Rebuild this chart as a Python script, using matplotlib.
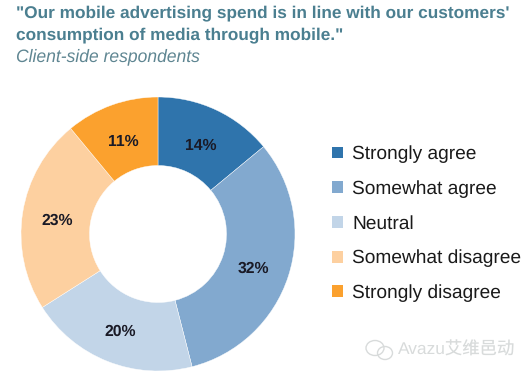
import math
import matplotlib
matplotlib.use("Agg")
import matplotlib.pyplot as plt
from matplotlib.patches import Ellipse

# -----------------------------
# Data
# -----------------------------
categories = ["Strongly agree", "Somewhat agree", "Neutral", "Somewhat disagree", "Strongly disagree"]
values = [14, 32, 20, 23, 11]
colors = ["#2f74ac", "#82a9cf", "#c2d5e8", "#fdd0a0", "#fba12e"]

title_lines = "\"Our mobile advertising spend is in line with our customers'\nconsumption of media through mobile.\""
subtitle = "Client-side respondents"
watermark = "Avazu艾维邑动"

W, H = 532, 375
plt.rcParams["font.family"] = ["Liberation Sans", "Noto Sans CJK SC", "DejaVu Sans"]
plt.rcParams["text.hinting"] = "no_hinting"

fig = plt.figure(figsize=(W / 100, H / 100), dpi=100, facecolor="white")

# -----------------------------
# Donut
# -----------------------------
cx, cy, r = 158, 234, 137
ax = fig.add_axes([(cx - r) / W, 1 - (cy + r) / H, 2 * r / W, 2 * r / H])
wedges, _ = ax.pie(
    values,
    colors=colors,
    startangle=90,
    counterclock=False,
    radius=1.0,
    wedgeprops=dict(width=0.5, edgecolor="white", linewidth=0.3),
)
ax.set_xlim(-1, 1)
ax.set_ylim(-1, 1)

# percent labels, nudged slightly off the middle of each ring segment
angle = 90.0
for v in values:
    mid = angle - v * 3.6 / 2
    ax.text(
        0.74 * math.cos(math.radians(mid)) - 0.005,
        0.74 * math.sin(math.radians(mid)) - 0.022,
        f"{v}%",
        ha="center",
        va="center",
        fontsize=11.3,
        fontweight="bold",
        color="#1a1a26",
    )
    angle -= v * 3.6

# -----------------------------
# Legend
# -----------------------------
fig.legend(
    wedges,
    categories,
    loc="upper left",
    bbox_to_anchor=(332 / W, 1 - 145.5 / H),
    frameon=False,
    fontsize=13.75,
    labelcolor="#1a1a1a",
    handlelength=0.58,
    handleheight=0.58,
    handletextpad=0.47,
    labelspacing=0.89,
    borderpad=0,
    borderaxespad=0,
)
for h in fig.legends[0].legend_handles:
    h.set_edgecolor("none")

# -----------------------------
# Titles
# -----------------------------
fig.text(16 / W, 1 - 5 / H, title_lines, ha="left", va="top", fontsize=12.45, fontweight="bold",
         color="#4b7f90", linespacing=1.48)
fig.text(16 / W, 1 - 48 / H, subtitle, ha="left", va="top", fontsize=12.65, style="italic", color="#5f8692")

# -----------------------------
# Watermark
# -----------------------------
fig.text(398 / W, 1 - 350 / H, watermark, ha="left", va="center", fontsize=12.5, color="#d8dbdb")
bg = fig.add_axes([0, 0, 1, 1], facecolor="none")
bg.set_xlim(0, W)
bg.set_ylim(H, 0)
bg.axis("off")
bg.add_patch(Ellipse((375, 348), 18, 15, fill=False, edgecolor="#d8dbdb", linewidth=1))
bg.add_patch(Ellipse((385, 353), 15, 13, fill=False, edgecolor="#d8dbdb", linewidth=1))

fig.savefig("out.png", dpi=100)
